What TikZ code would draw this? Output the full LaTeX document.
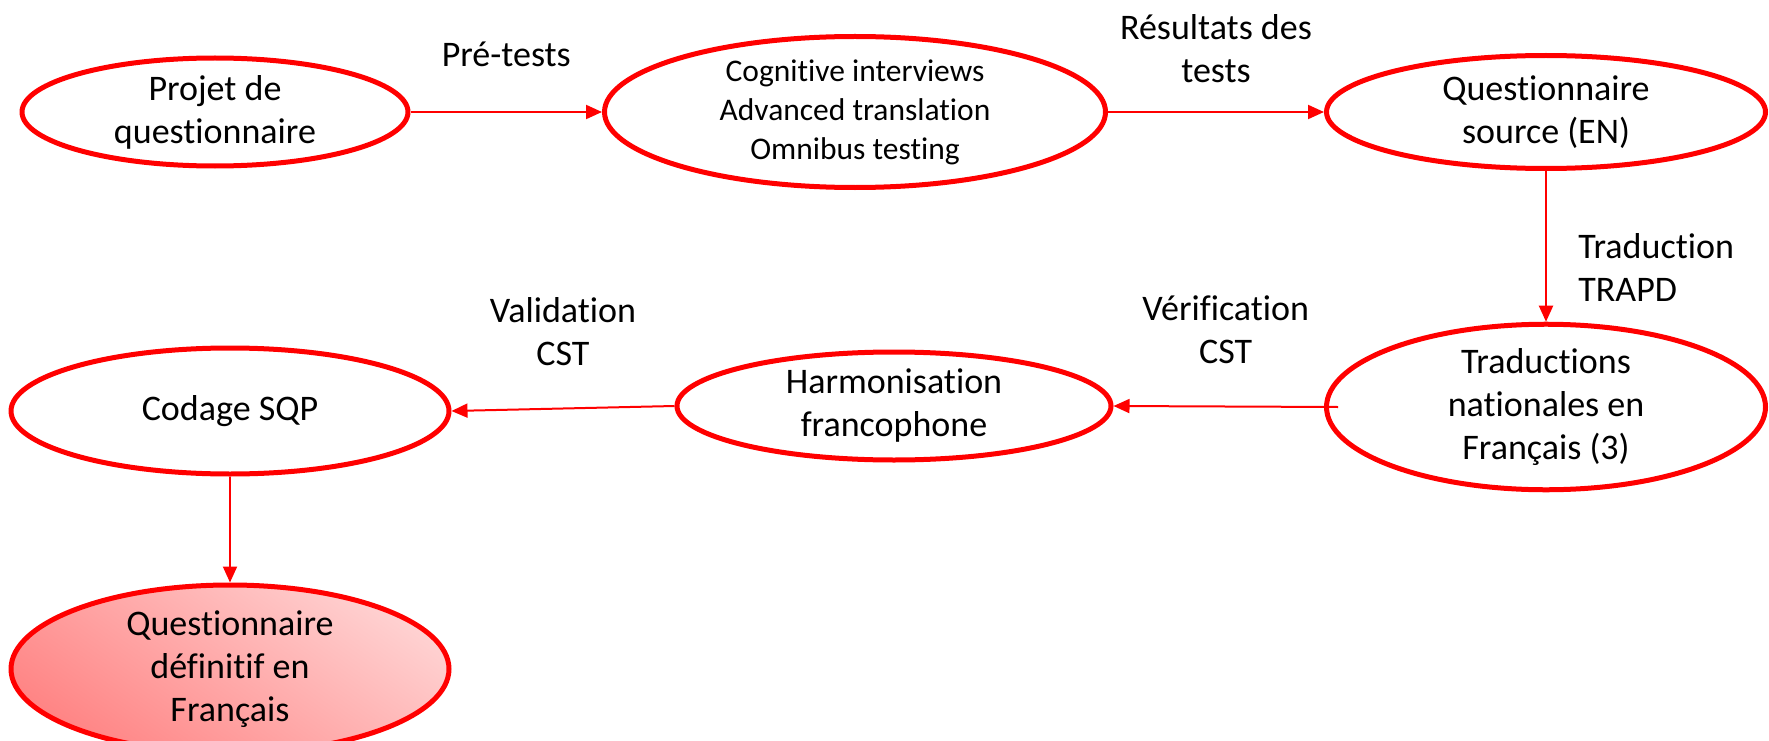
\documentclass[tikz,border=0pt]{standalone}
\usepackage{fontspec}
\setmainfont{Carlito}[Ligatures={NoCommon,NoRequired}, Contextuals=NoAlternate]
\usetikzlibrary{shapes.geometric,arrows.meta}
\begin{document}
\begin{tikzpicture}[x=1pt, y=-1pt, line join=round, >={Triangle[length=16pt,width=14pt]},
  etape/.style={ellipse, draw=red, line width=5pt, inner sep=0pt, align=center, font=\fontsize{36}{43}\selectfont},
  fleche/.style={->, draw=red, fill=red, line width=2pt},
  lbl/.style={align=center, font=\fontsize{36}{43}\selectfont}]
\useasboundingbox (0,0) rectangle (1769,741);
% ligne du haut
\node[etape, minimum width=386pt, minimum height=108pt] (projet) at (215,112) {Projet de\\questionnaire};
\node[etape, minimum width=501pt, minimum height=151pt, font=\fontsize{31.5}{39}\selectfont] (pretest) at (855,112) {Cognitive interviews\\Advanced translation\\Omnibus testing};
\node[etape, minimum width=439pt, minimum height=113pt] (source) at (1546,112) {Questionnaire\\source (EN)};
% ligne du milieu
\node[etape, minimum width=439pt, minimum height=160pt] (trad) at (1546,407) {Traductions\\nationales en\\Français (3)};
\node[etape, minimum width=434pt, minimum height=108pt] (harmo) at (894,406) {Harmonisation\\francophone};
\node[etape, minimum width=438pt, minimum height=126pt] (sqp) at (230,411) {Codage SQP};
% resultat
\node[etape, minimum width=438pt, minimum height=168pt, top color=red!18, bottom color=red!48, shading angle=-35] (final) at (230,669) {Questionnaire\\définitif en\\Français};
% fleches
\draw[fleche] (projet.east) -- node[lbl, above=41pt] {Pré-tests} (pretest.west);
\draw[fleche] (pretest.east) -- node[lbl, above=25pt] {Résultats des\\tests} (source.west);
\draw[fleche] (source.south) -- node[lbl, right=28pt, align=left, yshift=-21pt] {Traduction\\TRAPD} (trad.north);
\draw[fleche] ([xshift=14pt]trad.west) -- node[lbl, above=38pt] {Vérification\\CST} (harmo.east);
\draw[fleche] (harmo.west) -- node[lbl, above=38pt] {Validation\\CST} (sqp.east);
\draw[fleche] (sqp.south) -- (final.north);
\end{tikzpicture}
\end{document}
